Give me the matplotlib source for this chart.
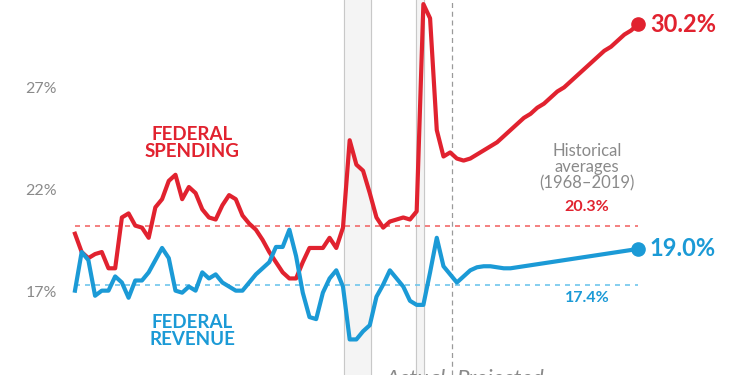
import numpy as np
import matplotlib
matplotlib.use("Agg")
from matplotlib import pyplot as plt

# Anos fiscais 1968-2052 (real até 2022, projetado depois)
anos = list(range(1968, 2053))

# Gastos federais, % do PIB
gastos = [19.9, 19.0, 18.7, 18.9, 19.0, 18.2, 18.2, 20.7, 20.9, 20.3,
          20.2, 19.7, 21.2, 21.6, 22.5, 22.8, 21.6, 22.2, 21.9, 21.1,
          20.7, 20.6, 21.3, 21.8, 21.6, 20.8, 20.4, 20.1, 19.6, 19.0,
          18.5, 18.0, 17.7, 17.7, 18.5, 19.2, 19.2, 19.2, 19.7, 19.2,
          20.2, 24.5, 23.3, 23.0, 21.9, 20.7, 20.2, 20.5, 20.6, 20.7,
          20.6, 21.0, 31.2, 30.5, 25.0, 23.7, 23.9, 23.6, 23.5, 23.6,
          23.8, 24.0, 24.2, 24.4, 24.7, 25.0, 25.3, 25.6, 25.8, 26.1,
          26.3, 26.6, 26.9, 27.1, 27.4, 27.7, 28.0, 28.3, 28.6, 28.9,
          29.1, 29.4, 29.7, 29.9, 30.2]

# Receitas federais, % do PIB
receitas = [17.1, 19.0, 18.6, 16.85, 17.1, 17.1, 17.8, 17.5, 16.75, 17.6,
            17.6, 18.0, 18.6, 19.2, 18.7, 17.1, 17.0, 17.3, 17.1, 18.0,
            17.7, 17.9, 17.5, 17.3, 17.1, 17.1, 17.5, 17.9, 18.2, 18.5,
            19.25, 19.25, 20.1, 18.8, 17.0, 15.8, 15.7, 17.0, 17.7, 18.1,
            17.3, 14.7, 14.7, 15.1, 15.4, 16.8, 17.4, 18.1, 17.7, 17.3,
            16.6, 16.4, 16.4, 18.0, 19.7, 18.3, 17.9, 17.5, 17.8, 18.1,
            18.25, 18.3, 18.3, 18.25, 18.2, 18.2, 18.25, 18.3, 18.35, 18.4,
            18.45, 18.5, 18.55, 18.6, 18.65, 18.7, 18.75, 18.8, 18.85, 18.9,
            18.95, 19.0, 19.05, 19.1, 19.15]

media_gastos = 20.3
media_receitas = 17.4
yticks = [17, 22, 27]
ytick_labels = ['17%', '22%', '27%']

vermelho = '#e1222f'
azul = '#1b9ad6'
cinza = '#8a8a8a'
fonte = 'Lato'

fig = plt.figure(figsize=(7.5, 3.75), dpi=100)
ax = fig.add_axes([0, 0, 1, 1])
ax.set_xlim(1956.81, 2068.75)
ax.set_ylim(12.95, 31.40)
ax.axis('off')

# faixas cinzas (recessões)
for a, b in [(2008.15, 2012.18), (2018.9, 2020.1)]:
    ax.axvspan(a, b, color='#f4f4f4', zorder=0)
    ax.axvline(a, color='#c8c8c8', lw=0.8, zorder=1)
    ax.axvline(b, color='#c8c8c8', lw=0.8, zorder=1)

# linha real / projetado
ax.axvline(2024.22, color='#9a9a9a', lw=0.9, ls=(0, (4, 3)), zorder=1)

# médias históricas
ax.plot([anos[0], anos[-1]], [media_gastos] * 2, color='#f26b6b', lw=1.2, ls=(0, (3, 3)), zorder=2)
ax.plot([anos[0], anos[-1]], [media_receitas] * 2, color='#6fc6ec', lw=1.2, ls=(0, (3, 3)), zorder=2)

ax.plot(anos, gastos, color=vermelho, lw=3.0, solid_joinstyle='round', zorder=3)
ax.plot(anos, receitas, color=azul, lw=3.0, solid_joinstyle='round', zorder=3)
ax.plot(anos[-1], gastos[-1], 'o', color=vermelho, ms=9.5, zorder=4)
ax.plot(anos[-1], receitas[-1], 'o', color=azul, ms=9.5, zorder=4)

# rótulos do eixo y
for v, t in zip(yticks, ytick_labels):
    ax.text(1965.3, v, t, ha='right', va='center', color=cinza,
            fontsize=11.5, family=fonte)

ax.text(2053.8, gastos[-1], '30.2%', color=vermelho, fontsize=17, fontweight='bold',
        ha='left', va='center', family=fonte)
ax.text(2053.8, receitas[-1], '19.0%', color=azul, fontsize=17, fontweight='bold',
        ha='left', va='center', family=fonte)

ax.text(1985.5, 24.36, 'FEDERAL\nSPENDING', color=vermelho, fontsize=13.5, fontweight='bold',
        ha='center', va='center', linespacing=1.0, family=fonte)
ax.text(1985.5, 15.12, 'FEDERAL\nREVENUE', color=azul, fontsize=13.5, fontweight='bold',
        ha='center', va='center', linespacing=1.0, family=fonte)

ax.text(2044.4, 23.18, 'Historical\naverages\n(1968–2019)', color=cinza, fontsize=12,
        ha='center', va='center', linespacing=1.0, family=fonte)
ax.text(2044.4, 21.22, '20.3%', color=vermelho, fontsize=11.5, fontweight='bold',
        ha='center', va='center', family=fonte)
ax.text(2044.4, 16.74, '17.4%', color=azul, fontsize=11.5, fontweight='bold',
        ha='center', va='center', family=fonte)

ax.text(2023.4, 12.75, 'Actual', color=cinza, fontsize=16, style='italic',
        ha='right', va='center', family=fonte)
ax.text(2025.0, 12.75, 'Projected', color=cinza, fontsize=16, style='italic',
        ha='left', va='center', family=fonte)

fig.savefig('out.png', dpi=100)
